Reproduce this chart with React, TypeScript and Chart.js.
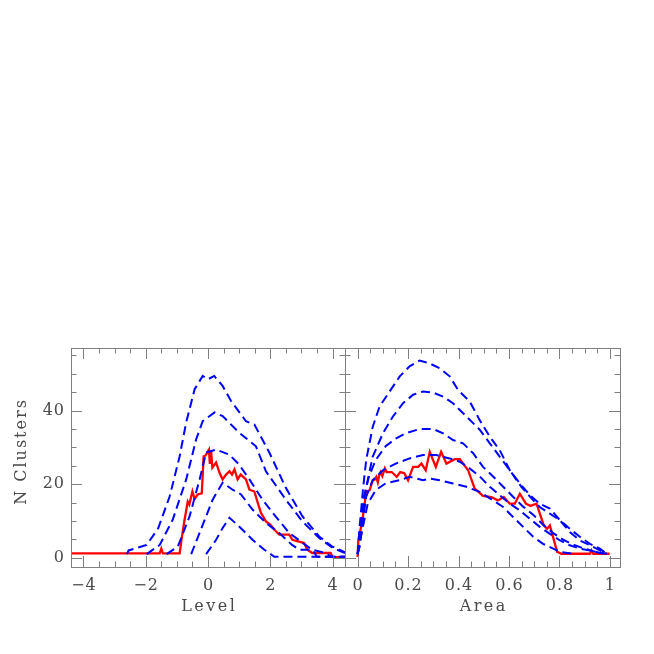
import React, { useEffect, useRef } from "react";
import { Chart, registerables } from "chart.js";

Chart.register(...registerables);

// ---------- Data: left panel (Level) ----------
const levelBlue1: [number, number][] = [
  [-2.6, 1], [-2.55, 2], [-1.97, 3.5], [-1.6, 8], [-1.23, 16.7], [-0.91, 27.6], [-0.7, 36.8],
  [-0.43, 45.8], [-0.17, 49.4], [0, 48.5], [0.2, 49.4], [0.47, 46.7], [0.74, 42.6],
  [1.22, 37.1], [1.49, 36.2], [1.97, 28.6], [2.5, 19], [3.03, 11.3], [3.57, 5.8],
  [3.98, 3.1], [4.4, 1.5],
];
const levelBlue2: [number, number][] = [
  [-1.97, 1], [-1.55, 3.5], [-1.13, 10.4], [-0.7, 21.3], [-0.38, 32.2], [-0.17, 37.1],
  [0.21, 39.5], [0.47, 38.5], [1.0, 34], [1.54, 30.3], [1.86, 23.5], [2.5, 15.8],
  [3.03, 9.9], [3.57, 5.4], [4.0, 2.7], [4.4, 1.3],
];
const levelBlue3: [number, number][] = [
  [-1.33, 1], [-0.97, 3], [-0.59, 11.3], [-0.27, 21.3], [-0.06, 28.6], [0.26, 29.4],
  [0.69, 28], [1.0, 25.3], [1.33, 21.3], [1.75, 15.8], [2.07, 12.3], [2.6, 6.8],
  [3.03, 4.1], [3.35, 2.2], [3.78, 1.3], [3.95, 0.3], [4.4, 0.3],
];
const levelBlue4: [number, number][] = [
  [-0.54, 1], [-0.27, 6.8], [0.15, 15.8], [0.47, 20.4], [0.79, 18.5], [1.06, 17.2],
  [1.43, 13.1], [1.86, 9.5], [2.29, 6.7], [2.7, 3.5], [2.93, 2.2], [3.35, 2.2],
  [3.5, 0.3], [4.4, 0.3],
];
const levelBlue5: [number, number][] = [
  [-0.06, 1], [0.26, 4.9], [0.47, 8.1], [0.69, 10.9], [1.0, 8.5], [1.43, 4.9],
  [1.81, 2.2], [2.13, 0.3], [4.4, 0.3],
];
const levelRed: [number, number][] = [
  [-4.4, 1.2], [-1.55, 1.2], [-1.5, 2.5], [-1.45, 1.2], [-0.91, 1.2], [-0.85, 5],
  [-0.75, 10.4], [-0.65, 15.3], [-0.6, 14.5], [-0.5, 18], [-0.43, 16], [-0.33, 17.2],
  [-0.2, 17.5], [-0.14, 27.6], [-0.08, 27.8], [0.03, 29.4], [0.06, 25.5], [0.1, 29],
  [0.14, 24.5], [0.26, 25.9], [0.37, 23.1], [0.47, 21.3], [0.58, 22.6], [0.69, 23.5],
  [0.77, 22.6], [0.85, 24], [0.95, 21.3], [1.05, 22.6], [1.22, 21.3], [1.33, 18.5],
  [1.49, 18], [1.6, 14.9], [1.7, 12.2], [1.86, 9.9], [2.0, 9], [2.18, 7.2], [2.29, 6.3],
  [2.61, 6.3], [2.71, 4.9], [3.09, 4], [3.19, 2.2], [3.35, 1.3], [3.94, 1.3], [4.0, 0.2],
  [4.4, 0.2],
];

// ---------- Data: right panel (Area) ----------
const areaBlue1: [number, number][] = [
  [0, 1], [0.008, 8.4], [0.021, 18.4], [0.034, 26.6], [0.06, 35.6], [0.087, 41.1],
  [0.127, 45.2], [0.167, 49.3], [0.206, 52], [0.246, 53.6], [0.286, 52.8], [0.325, 51.5],
  [0.365, 49.3], [0.398, 45.6], [0.444, 42.5], [0.484, 37.4], [0.524, 32.9], [0.563, 29.3],
  [0.603, 23.8], [0.643, 20.2], [0.683, 17], [0.722, 14.7], [0.762, 13.4], [0.802, 10.2],
  [0.841, 7.9], [0.881, 5.7], [0.921, 3.8], [0.96, 2.5], [0.987, 1.1],
];
const areaBlue2: [number, number][] = [
  [0, 1], [0.008, 4.8], [0.021, 13.9], [0.04, 21.1], [0.06, 27.5], [0.1, 33.8], [0.14, 38.4],
  [0.18, 42], [0.22, 44.3], [0.259, 45.2], [0.299, 44.9], [0.339, 43.8], [0.378, 42],
  [0.431, 38.4], [0.484, 34.8], [0.524, 31.1], [0.563, 27.5], [0.603, 23.8], [0.649, 19.3],
  [0.683, 16.6], [0.722, 13.8], [0.762, 12], [0.802, 10.2], [0.841, 7], [0.881, 4.7],
  [0.921, 3.4], [0.96, 2], [0.987, 1.1],
];
const areaBlue3: [number, number][] = [
  [0, 1], [0.008, 3.9], [0.025, 16.7], [0.045, 22.1], [0.072, 26.6], [0.111, 30.3],
  [0.151, 32.4], [0.19, 33.8], [0.246, 35], [0.299, 35], [0.339, 33.8], [0.378, 32],
  [0.418, 31.1], [0.458, 28.4], [0.497, 24.7], [0.537, 22.1], [0.577, 19.3], [0.616, 16.6],
  [0.656, 13.9], [0.696, 11.7], [0.735, 9], [0.775, 6.7], [0.815, 4.9], [0.854, 3.6],
  [0.894, 2.6], [0.934, 1.8], [0.987, 1.1],
];
const areaBlue4: [number, number][] = [
  [0, 1], [0.008, 3], [0.021, 10.2], [0.034, 16.6], [0.06, 21.1], [0.1, 23.8], [0.151, 25.6],
  [0.206, 27], [0.259, 27.9], [0.312, 27.9], [0.365, 27], [0.405, 26.1], [0.444, 24.3],
  [0.484, 22.1], [0.524, 19.3], [0.563, 17], [0.603, 14.7], [0.643, 12.9], [0.683, 10.6],
  [0.722, 8.4], [0.762, 6.5], [0.802, 4.7], [0.841, 3.4], [0.881, 2.5], [0.921, 2],
  [0.974, 1.1],
];
const areaBlue5: [number, number][] = [
  [0, 1], [0.021, 8.4], [0.04, 14.7], [0.072, 18.4], [0.111, 20.2], [0.167, 21.1],
  [0.206, 22], [0.259, 21.1], [0.286, 21.5], [0.325, 21.1], [0.378, 20.2], [0.431, 19.3],
  [0.484, 17.9], [0.537, 15.6], [0.577, 13.8], [0.616, 11.1], [0.656, 8.4], [0.696, 5.7],
  [0.735, 3.8], [0.775, 2.5], [0.802, 1.6], [0.854, 1.1],
];
const areaRed: [number, number][] = [
  [0, 0.2], [0.003, 4.8], [0.019, 10.2], [0.034, 17.9], [0.048, 18.4], [0.06, 21.1],
  [0.067, 21.2], [0.074, 22], [0.08, 20.5], [0.086, 22.5], [0.091, 23.3], [0.098, 22.2],
  [0.108, 24.3], [0.115, 23.3], [0.135, 23.3], [0.155, 22], [0.169, 23.3], [0.185, 23],
  [0.2, 21.1], [0.22, 24.7], [0.24, 24.7], [0.253, 25.6], [0.27, 23.8], [0.286, 28.8],
  [0.31, 24.7], [0.331, 28.8], [0.352, 25.6], [0.385, 26.8], [0.405, 26.8], [0.438, 23.8],
  [0.464, 18.8], [0.497, 16.8], [0.53, 16.5], [0.556, 15.6], [0.579, 16.5], [0.603, 14.7],
  [0.623, 14.7], [0.643, 17.4], [0.667, 14.7], [0.685, 14.1], [0.709, 14.7], [0.738, 8.8],
  [0.751, 7.9], [0.762, 8.8], [0.791, 1.6], [0.808, 1.1], [0.921, 1.1], [0.927, 2],
  [0.934, 1.1], [0.999, 1.1],
];

// ---------- Axis ticks ----------
const levelMajorTicks = [-4, -2, 0, 2, 4];
const levelTickLabels = ["\u22124", "\u22122", "0", "2", "4"];
const levelMinorStep = 0.5;
const areaMajorTicks = [0, 0.2, 0.4, 0.6, 0.8, 1];
const areaTickLabels = ["0", "0.2", "0.4", "0.6", "0.8", "1"];
const areaMinorStep = 0.05;
const countMajorTicks = [0, 20, 40];
const countTickLabels = ["0", "20", "40"];
const countMinorStep = 5;

const FONT = '16px "DejaVu Serif"';
const TEXT_COLOR = "#4a4a4a";
const FRAME_COLOR = "#808080";

type PanelCfg = {
  xMajor: number[];
  xLabels: string[];
  xMinorStep: number;
  xTitle: string;
  showYLabels: boolean;
};

function drawSpaced(ctx: CanvasRenderingContext2D, text: string, x: number, y: number, spacing: number, align: "center" | "right") {
  // measure total width with spacing, then draw char by char
  const widths = Array.from(text).map((ch) => ctx.measureText(ch).width);
  const total = widths.reduce((a, b) => a + b, 0) + spacing * (widths.length - 1);
  let cx = align === "center" ? x - total / 2 : x - total;
  const prevAlign = ctx.textAlign;
  ctx.textAlign = "left";
  Array.from(text).forEach((ch, i) => {
    ctx.fillText(ch, cx, y);
    cx += widths[i] + spacing;
  });
  ctx.textAlign = prevAlign;
}

function framePlugin(cfg: PanelCfg) {
  return {
    id: "frameTicks",
    afterDraw(chart: any) {
      const { ctx, chartArea } = chart;
      const { left, right, top, bottom } = chartArea;
      const xs = chart.scales.x;
      const ys = chart.scales.y;
      const MAJ = 11;
      const MIN = 5.5;
      ctx.save();
      ctx.strokeStyle = FRAME_COLOR;
      ctx.lineWidth = 1;
      ctx.strokeRect(Math.round(left) + 0.5, Math.round(top) + 0.5, Math.round(right - left), Math.round(bottom - top));
      ctx.beginPath();
      const start = Math.ceil(xs.min / cfg.xMinorStep - 1e-9);
      const end = Math.floor(xs.max / cfg.xMinorStep + 1e-9);
      for (let i = start; i <= end; i++) {
        const v = i * cfg.xMinorStep;
        const isMajor = cfg.xMajor.some((m) => Math.abs(m - v) < 1e-6);
        const len = isMajor ? MAJ : MIN;
        const px = Math.round(xs.getPixelForValue(v)) + 0.5;
        ctx.moveTo(px, bottom);
        ctx.lineTo(px, bottom - len);
        ctx.moveTo(px, top);
        ctx.lineTo(px, top + len);
      }
      const ys0 = Math.ceil(ys.min / countMinorStep);
      const ys1 = Math.floor(ys.max / countMinorStep);
      for (let i = ys0; i <= ys1; i++) {
        const v = i * countMinorStep;
        const isMajor = countMajorTicks.includes(v);
        const len = isMajor ? MAJ : MIN;
        const py = Math.round(ys.getPixelForValue(v)) + 0.5;
        ctx.moveTo(left, py);
        ctx.lineTo(left + len, py);
        ctx.moveTo(right, py);
        ctx.lineTo(right - len, py);
      }
      ctx.stroke();

      ctx.fillStyle = TEXT_COLOR;
      ctx.font = FONT;
      ctx.textBaseline = "middle";
      cfg.xMajor.forEach((v, i) => {
        drawSpaced(ctx, cfg.xLabels[i], xs.getPixelForValue(v), bottom + 19, 1, "center");
      });
      drawSpaced(ctx, cfg.xTitle, (left + right) / 2, bottom + 40, 2.5, "center");
      if (cfg.showYLabels) {
        countMajorTicks.forEach((v, i) => {
          drawSpaced(ctx, countTickLabels[i], left - 7, ys.getPixelForValue(v), 1, "right");
        });
        ctx.save();
        ctx.translate(left - 49, (top + bottom) / 2 - 5);
        ctx.rotate(-Math.PI / 2);
        drawSpaced(ctx, "N Clusters", 0, 0, 2, "center");
        ctx.restore();
      }
      ctx.restore();
    },
  };
}

function blue(data: [number, number][]) {
  return {
    data: data.map(([x, y]) => ({ x, y })),
    borderColor: "#0000ff",
    borderWidth: 2,
    borderDash: [9, 5],
    pointRadius: 0,
    tension: 0,
    fill: false,
  };
}
function red(data: [number, number][]) {
  return {
    data: data.map(([x, y]) => ({ x, y })),
    borderColor: "#ff0000",
    borderWidth: 2.3,
    pointRadius: 0,
    tension: 0,
    fill: false,
  };
}

function makeChart(
  canvas: HTMLCanvasElement,
  series: { blues: [number, number][][]; red: [number, number][] },
  xRange: [number, number],
  padding: { left: number; right: number; top: number; bottom: number },
  cfg: PanelCfg
) {
  return new Chart(canvas, {
    type: "line",
    data: {
      datasets: [...series.blues.map(blue), red(series.red)] as any,
    },
    options: {
      animation: false,
      responsive: false,
      devicePixelRatio: 1,
      layout: { padding },
      plugins: { legend: { display: false }, tooltip: { enabled: false } },
      scales: {
        x: { type: "linear", min: xRange[0], max: xRange[1], display: false },
        y: { type: "linear", min: -2.5, max: 57, display: false },
      },
    },
    plugins: [framePlugin(cfg)],
  });
}

export default function App() {
  const leftRef = useRef<HTMLCanvasElement>(null);
  const rightRef = useRef<HTMLCanvasElement>(null);

  useEffect(() => {
    const c1 = makeChart(
      leftRef.current!,
      { blues: [levelBlue1, levelBlue2, levelBlue3, levelBlue4, levelBlue5], red: levelRed },
      [-4.4, 4.4],
      { left: 71, right: 654 - 345, top: 348, bottom: 654 - 567 },
      { xMajor: levelMajorTicks, xLabels: levelTickLabels, xMinorStep: levelMinorStep, xTitle: "Level", showYLabels: true }
    );
    const c2 = makeChart(
      rightRef.current!,
      { blues: [areaBlue1, areaBlue2, areaBlue3, areaBlue4, areaBlue5], red: areaRed },
      [-0.05, 1.04],
      { left: 345, right: 654 - 620, top: 348, bottom: 654 - 567 },
      { xMajor: areaMajorTicks, xLabels: areaTickLabels, xMinorStep: areaMinorStep, xTitle: "Area", showYLabels: false }
    );
    return () => {
      c1.destroy();
      c2.destroy();
    };
  }, []);

  const style: React.CSSProperties = { position: "absolute", left: 0, top: 0, width: 654, height: 654 };
  return (
    <div style={{ position: "absolute", left: 0, top: 0, width: 654, height: 654, background: "#fff" }}>
      <canvas ref={leftRef} width={654} height={654} style={style} />
      <canvas ref={rightRef} width={654} height={654} style={style} />
    </div>
  );
}
